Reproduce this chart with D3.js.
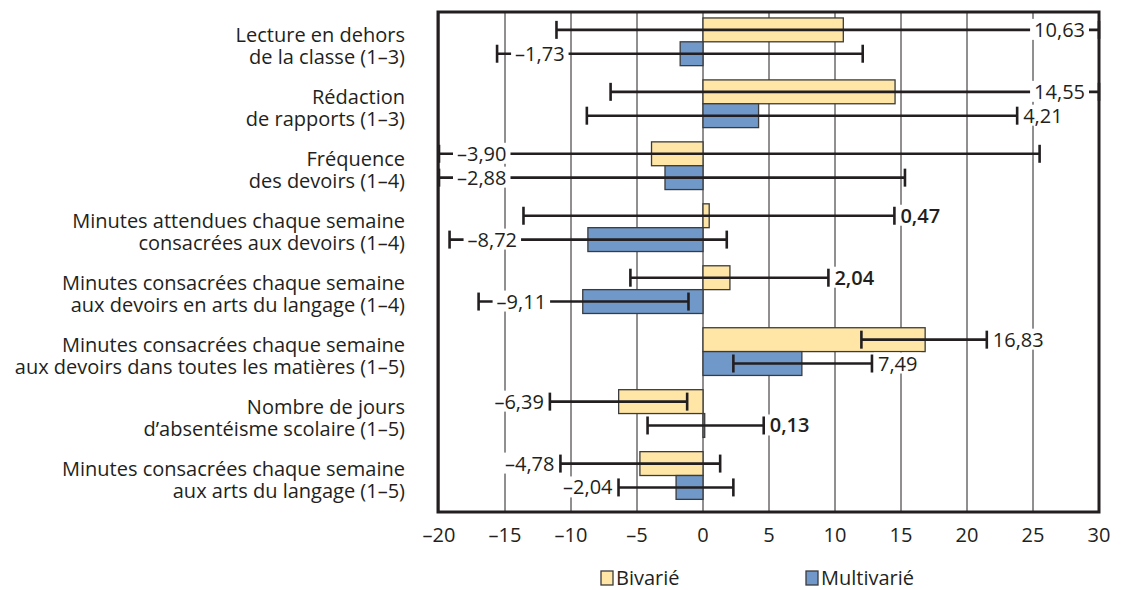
<!DOCTYPE html>
<html>
<head>
    <meta charset="utf-8">
    <title>bivarie_multivarie</title>
    <script type="text/javascript" src="https://cdn.jsdelivr.net/npm/d3@7/dist/d3.min.js"></script>
    <style>
        body { margin: 0; background: #fff; }
        .mytext { font-family: "Open Sans", "Noto Sans", sans-serif; font-size: 20px; fill: #231f20; }
        .grid line { stroke: #231f20; stroke-width: 1px; }
        .frame { fill: none; stroke: #231f20; stroke-width: 3px; }
        .bar_b { fill: #ffe6a6; stroke: #3b3b3b; stroke-width: 1.3px; }
        .bar_m { fill: #7098c8; stroke: #3b3b3b; stroke-width: 1.3px; }
        .err { stroke: #231f20; stroke-width: 2.6px; fill: none; }
    </style>
</head>
<body>
<div id="svg_div"></div>
<script type="text/javascript">
    var width = 1126, height = 590;

    var categories = [
        ["Lecture en dehors", "de la classe (1–3)"],
        ["Rédaction", "de rapports (1–3)"],
        ["Fréquence", "des devoirs (1–4)"],
        ["Minutes attendues chaque semaine", "consacrées aux devoirs (1–4)"],
        ["Minutes consacrées chaque semaine", "aux devoirs en arts du langage (1–4)"],
        ["Minutes consacrées chaque semaine", "aux devoirs dans toutes les matières (1–5)"],
        ["Nombre de jours", "d’absentéisme scolaire (1–5)"],
        ["Minutes consacrées chaque semaine", "aux arts du langage (1–5)"]
    ];
    var series = ["Bivarié", "Multivarié"];

    var bivarie      = [10.63, 14.55, -3.90, 0.47, 2.04, 16.83, -6.39, -4.78];
    var bivarieLow   = [-11.1, -7.0, -20, -13.6, -5.5, 12.0, -11.6, -10.8];
    var bivarieHigh  = [30, 30, 25.5, 14.5, 9.5, 21.5, -1.2, 1.3];

    var multivarie     = [-1.73, 4.21, -2.88, -8.72, -9.11, 7.49, 0.13, -2.04];
    var multivarieLow  = [-15.6, -8.8, -20, -19.2, -17.0, 2.3, -4.2, -6.4];
    var multivarieHigh = [12.1, 23.8, 15.3, 1.8, -1.1, 12.8, 4.6, 2.3];

    var xTicks = [-20, -15, -10, -5, 0, 5, 10, 15, 20, 25, 30];

    // where each value label sits relative to its error bar
    var sideB = ["inRight", "inRight", "inLeft", "outRight", "outRight", "outRight", "outLeft", "outLeft"];
    var sideM = ["inLeft", "outRight", "inLeft", "inLeft", "inLeft", "outRight", "outRight", "outLeft"];
    var boldLabels = ["0,47", "2,04", "0,13"];

    var plotL = 439, plotR = 1099, plotT = 12, plotB = 512;

    var x = d3.scaleLinear().domain([-20, 30]).range([plotL, plotR]);
    var y = d3.scaleBand().domain(d3.range(categories.length)).range([plotT, plotB])
        .paddingInner(0.23).paddingOuter(0.15).align(0.32);
    var ySub = d3.scaleBand().domain(series).range([0, y.bandwidth()]);

    var fmt = function(v){ return (v < 0 ? "–" : "") + Math.abs(v).toFixed(2).replace(".", ","); };

    var rows = [];
    categories.forEach(function(c, i){
        rows.push({i: i, s: series[0], v: bivarie[i], lo: bivarieLow[i], hi: bivarieHigh[i], side: sideB[i]});
        rows.push({i: i, s: series[1], v: multivarie[i], lo: multivarieLow[i], hi: multivarieHigh[i], side: sideM[i]});
    });

    var svg = d3.select("#svg_div").append("svg")
        .attr("width", width)
        .attr("height", height);

    // grid
    svg.append("g").attr("class", "grid")
        .selectAll("line").data(xTicks).enter().append("line")
        .attr("x1", function(d){ return x(d); }).attr("x2", function(d){ return x(d); })
        .attr("y1", plotT).attr("y2", plotB);

    // bars
    svg.append("g").selectAll("rect").data(rows).enter().append("rect")
        .attr("class", function(d){ return d.s == series[0] ? "bar_b" : "bar_m"; })
        .attr("x", function(d){ return x(Math.min(0, d.v)); })
        .attr("y", function(d){ return y(d.i) + ySub(d.s); })
        .attr("width", function(d){ return Math.abs(x(d.v) - x(0)); })
        .attr("height", ySub.bandwidth());

    // error bars
    var cap = 9;
    var err = svg.append("g").selectAll("g").data(rows).enter().append("g")
        .attr("transform", function(d){ return "translate(0," + (y(d.i) + ySub(d.s) + ySub.bandwidth() / 2) + ")"; });
    err.append("line").attr("class", "err")
        .attr("x1", function(d){ return x(d.lo); }).attr("x2", function(d){ return x(d.hi); });

    // value labels with white knock-out
    err.each(function(d){
        var g = d3.select(this);
        var t = fmt(d.v);
        var anchor, tx;
        if (d.side == "outRight") { anchor = "start"; tx = x(d.hi) + 6; }
        else if (d.side == "outLeft") { anchor = "end"; tx = x(d.lo) - 6; }
        else if (d.side == "inLeft") { anchor = "start"; tx = x(d.lo) + 18; }
        else { anchor = "end"; tx = x(d.hi) - 14; }
        var bg = g.append("rect").attr("fill", "#fff");
        var txt = g.append("text").attr("class", "mytext")
            .attr("x", tx).attr("y", 0).attr("dy", "0.35em")
            .attr("text-anchor", anchor)
            .style("font-weight", boldLabels.indexOf(t) > -1 ? "600" : "normal")
            .text(t);
        var bb = txt.node().getBBox();
        bg.attr("x", bb.x - 4).attr("y", bb.y + 3).attr("width", bb.width + 8).attr("height", bb.height - 6);
    });

    // caps drawn after labels so they stay visible
    err.append("line").attr("class", "err")
        .attr("x1", function(d){ return x(d.lo); }).attr("x2", function(d){ return x(d.lo); })
        .attr("y1", -cap).attr("y2", cap);
    err.append("line").attr("class", "err")
        .attr("x1", function(d){ return x(d.hi); }).attr("x2", function(d){ return x(d.hi); })
        .attr("y1", -cap).attr("y2", cap);

    // frame
    svg.append("rect").attr("class", "frame")
        .attr("x", plotL - 1).attr("y", plotT).attr("width", plotR - plotL + 1).attr("height", plotB - plotT);

    // x tick labels
    svg.append("g").selectAll("text").data(xTicks).enter().append("text")
        .attr("class", "mytext")
        .attr("x", function(d){ return x(d); })
        .attr("y", 542)
        .attr("text-anchor", "middle")
        .text(function(d){ return d < 0 ? "–" + Math.abs(d) : d; });

    // category labels
    var cat = svg.append("g").selectAll("text").data(categories).enter().append("text")
        .attr("class", "mytext")
        .attr("text-anchor", "end")
        .attr("x", 405)
        .attr("y", function(d, i){ return y(i) + y.bandwidth() / 2 - 7; });
    cat.selectAll("tspan").data(function(d){ return d; }).enter().append("tspan")
        .attr("x", 405)
        .attr("dy", function(d, j){ return j == 0 ? "0.35em" : "22px"; })
        .text(function(d){ return d; });

    // legend
    var legX = [601, 806];
    var leg = svg.append("g").selectAll("g").data(series).enter().append("g")
        .attr("transform", function(d, i){ return "translate(" + legX[i] + ",571)"; });
    leg.append("rect")
        .attr("class", function(d, i){ return i == 0 ? "bar_b" : "bar_m"; })
        .attr("width", 12).attr("height", 14);
    leg.append("text").attr("class", "mytext")
        .attr("x", 15).attr("y", 7).attr("dy", "0.33em")
        .text(function(d){ return d; });
</script>
</body>
</html>
